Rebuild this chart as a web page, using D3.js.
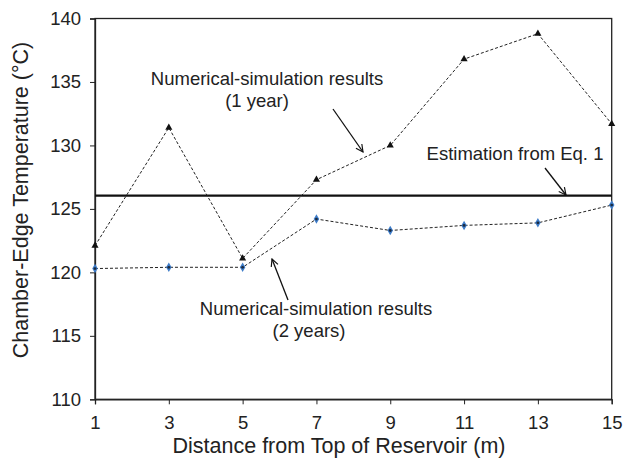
<!DOCTYPE html>
<html>
<head>
<meta charset="utf-8">
<script src="https://cdn.jsdelivr.net/npm/d3@7"></script>
<style>
  body { margin: 0; background: #fff; }
  text { font-family: "Liberation Sans", Arial, sans-serif; fill: #222; }
</style>
</head>
<body>
<div id="chart"></div>
<script>
// data
const distances = [1, 3, 5, 7, 9, 11, 13, 15];
const oneYear = [122.1, 131.4, 121.1, 127.3, 130.0, 136.8, 138.8, 131.7];
const twoYears = [120.3, 120.4, 120.4, 124.2, 123.3, 123.7, 123.9, 125.3];
const estimation = 126.05;
const yTicks = [110, 115, 120, 125, 130, 135, 140];

const width = 624, height = 460;
const margin = {top: 18.5, right: 12.3, bottom: 60.7, left: 95};

const svg = d3.select("#chart").append("svg")
    .attr("width", width)
    .attr("height", height);

const x = d3.scaleLinear().domain([1, 15]).range([margin.left, width - margin.right]);
const y = d3.scaleLinear().domain([110, 140]).range([height - margin.bottom, margin.top]);

// frame
svg.append("rect")
    .attr("x", x(1)).attr("y", y(140))
    .attr("width", x(15) - x(1)).attr("height", y(110) - y(140))
    .attr("fill", "none").attr("stroke", "#222").attr("stroke-width", 1.3);

const xAxis = svg.append("g")
    .attr("transform", `translate(0,${y(110)})`)
    .call(d3.axisBottom(x).tickValues(distances).tickSize(5).tickPadding(12).tickFormat(d3.format("d")));
const yAxis = svg.append("g")
    .attr("transform", `translate(${x(1)},0)`)
    .call(d3.axisLeft(y).tickValues(yTicks).tickSize(5).tickPadding(9).tickFormat(d3.format("d")));

[xAxis, yAxis].forEach(g => {
    g.select(".domain").attr("stroke", "#222").attr("stroke-width", 1.3);
    g.selectAll(".tick line").attr("stroke", "#222");
    g.selectAll(".tick text").attr("font-size", 18.5).attr("font-family", "Liberation Sans, Arial, sans-serif").attr("fill", "#222");
});

// axis titles
svg.append("text")
    .attr("x", 339).attr("y", 453)
    .attr("text-anchor", "middle").attr("font-size", 21.5)
    .text("Distance from Top of Reservoir (m)");
svg.append("text")
    .attr("transform", "translate(28,200) rotate(-90)")
    .attr("text-anchor", "middle").attr("font-size", 21.5)
    .text("Chamber-Edge Temperature (°C)");

// estimation line
svg.append("line")
    .attr("x1", x(1)).attr("x2", x(15))
    .attr("y1", y(estimation)).attr("y2", y(estimation))
    .attr("stroke", "#111").attr("stroke-width", 2.2);

const line = d3.line().x(d => x(d[0])).y(d => y(d[1]));

function series(values) {
    return distances.map((d, i) => [d, values[i]]);
}

svg.append("path")
    .datum(series(oneYear))
    .attr("d", line)
    .attr("fill", "none").attr("stroke", "#222")
    .attr("stroke-width", 1).attr("stroke-dasharray", "3,2");
svg.append("path")
    .datum(series(twoYears))
    .attr("d", line)
    .attr("fill", "none").attr("stroke", "#222")
    .attr("stroke-width", 1).attr("stroke-dasharray", "3,2");

svg.selectAll(".tri")
    .data(series(oneYear))
    .enter().append("path")
    .attr("class", "tri")
    .attr("transform", d => `translate(${x(d[0])},${y(d[1])})`)
    .attr("d", d3.symbol().type(d3.symbolTriangle).size(22))
    .attr("fill", "#111");

const dia = svg.selectAll(".dia")
    .data(series(twoYears))
    .enter().append("g")
    .attr("class", "dia")
    .attr("transform", d => `translate(${x(d[0])},${y(d[1])})`);
dia.append("path")
    .attr("d", d3.symbol().type(d3.symbolDiamond).size(26))
    .attr("fill", "#3d7cc9");
dia.append("circle").attr("r", 1.4).attr("fill", "#1a2a40");

// annotations
const defs = svg.append("defs");
defs.append("marker")
    .attr("id", "arrow")
    .attr("viewBox", "0 0 10 10")
    .attr("refX", 9).attr("refY", 5)
    .attr("markerWidth", 9).attr("markerHeight", 9)
    .attr("markerUnits", "userSpaceOnUse")
    .attr("orient", "auto")
    .append("path")
    .attr("d", "M1,1 L9,5 L1,9")
    .attr("fill", "none").attr("stroke", "#111").attr("stroke-width", 1.3);

function arrow(x1, y1, x2, y2) {
    svg.append("line")
        .attr("x1", x1).attr("y1", y1).attr("x2", x2).attr("y2", y2)
        .attr("stroke", "#111").attr("stroke-width", 1.3)
        .attr("marker-end", "url(#arrow)");
}

function label(lines, baseline, anchors) {
    lines.forEach((t, i) => {
        svg.append("text")
            .attr("x", anchors[i]).attr("y", baseline + i * 22)
            .attr("text-anchor", "middle").attr("font-size", 18.5)
            .text(t);
    });
}

label(["Numerical-simulation results", "(1 year)"], 85, [267, 257]);
arrow(333, 109, 363, 152);

label(["Estimation from Eq. 1"], 160, [515]);
arrow(545, 168, 566, 195);

label(["Numerical-simulation results", "(2 years)"], 315, [316, 309]);
arrow(288, 300, 272, 259);
</script>
</body>
</html>
